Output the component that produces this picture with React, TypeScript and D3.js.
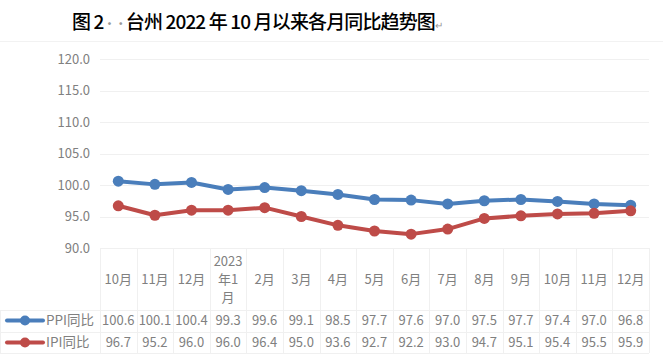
import { useEffect, useRef } from 'react';
import * as d3 from 'd3';

const categories = ['10月', '11月', '12月', '2023年1月', '2月', '3月', '4月', '5月', '6月', '7月', '8月', '9月', '10月', '11月', '12月'];
const categoryLines = [['10月'], ['11月'], ['12月'], ['2023', '年1', '月'], ['2月'], ['3月'], ['4月'], ['5月'], ['6月'], ['7月'], ['8月'], ['9月'], ['10月'], ['11月'], ['12月']];
const ppi = [100.6, 100.1, 100.4, 99.3, 99.6, 99.1, 98.5, 97.7, 97.6, 97.0, 97.5, 97.7, 97.4, 97.0, 96.8];
const ipi = [96.7, 95.2, 96.0, 96.0, 96.4, 95.0, 93.6, 92.7, 92.2, 93.0, 94.7, 95.1, 95.4, 95.5, 95.9];
const yTicks = [90, 95, 100, 105, 110, 115, 120];

const series = [
  { name: 'PPI同比', values: ppi, color: '#4A7EBB' },
  { name: 'IPI同比', values: ipi, color: '#BE4B48' },
];

const W = 663;
const H = 364;

const App = () => {
  const ref = useRef<SVGSVGElement>(null);

  useEffect(() => {
    const svg = d3.select(ref.current);
    svg.selectAll('*').remove();

    const left = 100;
    const right = 649;
    const top = 59;
    const bottom = 248;
    const rowCat = 310;
    const rowPpi = 332;
    const rowIpi = 353;
    const font = "'Noto Sans CJK SC', 'Open Sans', sans-serif";
    const grey = '#808080';
    const gridColor = '#F0F0F0';

    const idx = categories.map((_, i) => String(i));
    const x = d3.scaleBand().domain(idx).range([left, right]).paddingInner(0).paddingOuter(0);
    const y = d3.scaleLinear().domain([90, 120]).range([bottom, top]);
    const cx = (i: number) => (x(String(i)) as number) + x.bandwidth() / 2;

    svg.append('rect').attr('width', W).attr('height', H).attr('fill', '#fff');
    svg.append('line').attr('x1', 0).attr('x2', W).attr('y1', 41.5).attr('y2', 41.5).attr('stroke', '#F2F2F2');

    // title
    const title = svg
      .append('text')
      .attr('x', 72)
      .attr('y', 29)
      .attr('font-family', font)
      .attr('font-size', 19)
      .attr('font-weight', 500)
      .attr('textLength', 371)
      .attr('lengthAdjust', 'spacing')
      .attr('fill', '#000');
    title.append('tspan').text('图 2');
    title.append('tspan').attr('fill', '#999').attr('font-size', 12).text('··');
    title.append('tspan').text('台州 2022 年 10 月以来各月同比趋势图');
    title.append('tspan').attr('fill', '#999').attr('font-size', 10).text('↵');

    // gridlines
    svg
      .append('g')
      .selectAll('line')
      .data(yTicks.slice(1))
      .enter()
      .append('line')
      .attr('x1', left)
      .attr('x2', right)
      .attr('y1', (d) => Math.round(y(d)) + 0.5)
      .attr('y2', (d) => Math.round(y(d)) + 0.5)
      .attr('stroke', gridColor);

    // y labels
    svg
      .append('g')
      .selectAll('text')
      .data(yTicks)
      .enter()
      .append('text')
      .attr('x', 90)
      .attr('y', (d) => y(d) + 4.5)
      .attr('text-anchor', 'end')
      .attr('font-family', font)
      .attr('font-size', 13)
      .attr('fill', grey)
      .text((d) => d.toFixed(1));

    // data table grid
    const table = svg.append('g').attr('stroke', gridColor).attr('fill', 'none');
    [bottom, rowCat, rowPpi, rowIpi].forEach((yy, k) => {
      table
        .append('line')
        .attr('x1', k === 0 ? left : 0)
        .attr('x2', right)
        .attr('y1', yy + 0.5)
        .attr('y2', yy + 0.5);
    });
    d3.range(categories.length + 1).forEach((i) => {
      const xx = i < categories.length ? (x(String(i)) as number) : right;
      table
        .append('line')
        .attr('x1', Math.round(xx) + 0.5)
        .attr('x2', Math.round(xx) + 0.5)
        .attr('y1', bottom)
        .attr('y2', rowIpi);
    });
    table.append('line').attr('x1', 0.5).attr('x2', 0.5).attr('y1', rowCat).attr('y2', rowIpi);

    // categories
    const cat = svg.append('g').attr('font-family', font).attr('font-size', 13).attr('fill', grey).attr('text-anchor', 'middle');
    categoryLines.forEach((lines, i) => {
      const n = lines.length;
      lines.forEach((l, j) => {
        cat
          .append('text')
          .attr('x', cx(i))
          .attr('y', 284 + (j - (n - 1) / 2) * 18)
          .text(l);
      });
    });

    // table values + legend
    series.forEach((s, k) => {
      const ry = k === 0 ? 325 : 347;
      const g = svg.append('g').attr('font-family', font).attr('font-size', 13).attr('fill', grey);
      g.selectAll('text')
        .data(s.values)
        .enter()
        .append('text')
        .attr('x', (_, i) => cx(i))
        .attr('y', ry)
        .attr('text-anchor', 'middle')
        .text((d) => d.toFixed(1));

      const ly = ry - 4.5;
      svg
        .append('line')
        .attr('x1', 7)
        .attr('x2', 43)
        .attr('y1', ly)
        .attr('y2', ly)
        .attr('stroke', s.color)
        .attr('stroke-width', 4)
        .attr('stroke-linecap', 'round');
      svg.append('circle').attr('cx', 25).attr('cy', ly).attr('r', 5).attr('fill', s.color);
      svg
        .append('text')
        .attr('x', 46)
        .attr('y', ry)
        .attr('font-family', font)
        .attr('font-size', 13.5)
        .attr('fill', grey)
        .text(s.name);
    });

    // lines
    const line = d3
      .line<number>()
      .x((_, i) => cx(i))
      .y((d) => y(d));

    series.forEach((s) => {
      svg
        .append('path')
        .datum(s.values)
        .attr('d', line)
        .attr('fill', 'none')
        .attr('stroke', s.color)
        .attr('stroke-width', 4)
        .attr('stroke-linejoin', 'round');
      svg
        .append('g')
        .selectAll('circle')
        .data(s.values)
        .enter()
        .append('circle')
        .attr('cx', (_, i) => cx(i))
        .attr('cy', (d) => y(d))
        .attr('r', 5.5)
        .attr('fill', s.color);
    });
  }, []);

  return <svg ref={ref} width={W} height={H} style={{ position: 'absolute', left: 0, top: 0 }}></svg>;
};

export default App;
